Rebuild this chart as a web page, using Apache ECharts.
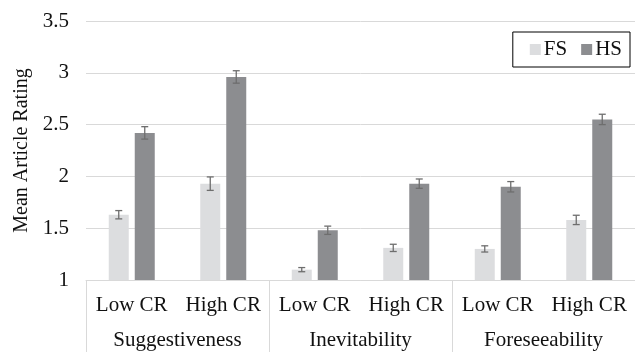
<!DOCTYPE html>
<html>
<head>
<meta charset="utf-8">
<script src="https://cdn.jsdelivr.net/npm/echarts@6/dist/echarts.min.js"></script>
<style>html,body{margin:0;padding:0;background:#fff}#c{width:635px;height:352px}</style>
</head>
<body>
<div id="c"></div>
<script>
const categories = ['Low CR', 'High CR', 'Low CR', 'High CR', 'Low CR', 'High CR'];
const groups = ['Suggestiveness', 'Inevitability', 'Foreseeability'];
const seriesNames = ['FS', 'HS'];
const fsValues = [1.63, 1.93, 1.10, 1.31, 1.30, 1.58];
const hsValues = [2.42, 2.96, 1.48, 1.93, 1.90, 2.55];
const fsErrors = [0.04, 0.065, 0.02, 0.035, 0.03, 0.045];
const hsErrors = [0.06, 0.06, 0.04, 0.045, 0.05, 0.05];
const yMin = 1, yMax = 3.5, yStep = 0.5;

const FONT = "'Liberation Serif', 'Times New Roman', serif";
const FS = 21;
const TXT = '#111';
const GRIDC = '#d9d9d9';
const BAR_W = 20, BAR_GAP_PX = 6;
const colors = ['#dcdddf', '#8c8d90'];

function errData(vals, errs) {
  return vals.map((v, i) => [i, v - errs[i], v + errs[i]]);
}
function errSeries(vals, errs, offset) {
  return {
    type: 'custom',
    xAxisIndex: 0, yAxisIndex: 0,
    z: 10,
    silent: true,
    data: errData(vals, errs),
    encode: { x: 0, y: [1, 2] },
    renderItem: function (params, api) {
      const c = api.value(0);
      const lo = api.coord([c, api.value(1)]);
      const hi = api.coord([c, api.value(2)]);
      const x = lo[0] + offset;
      const cap = 3.5;
      const st = { stroke: '#6e6e6e', lineWidth: 1.3 };
      return {
        type: 'group',
        children: [
          { type: 'line', shape: { x1: x, y1: lo[1], x2: x, y2: hi[1] }, style: st },
          { type: 'line', shape: { x1: x - cap, y1: lo[1], x2: x + cap, y2: lo[1] }, style: st },
          { type: 'line', shape: { x1: x - cap, y1: hi[1], x2: x + cap, y2: hi[1] }, style: st }
        ]
      };
    }
  };
}

const half = (BAR_W + BAR_GAP_PX) / 2;
const chart = echarts.init(document.getElementById('c'), null, { renderer: 'canvas' });
chart.setOption({
  animation: false,
  backgroundColor: '#fff',
  textStyle: { fontFamily: FONT },
  grid: { left: 86, right: -5, top: 21, bottom: 72, containLabel: false },
  legend: {
    data: seriesNames,
    right: 5, top: 32,
    orient: 'horizontal',
    icon: 'rect',
    itemWidth: 11, itemHeight: 11,
    itemGap: 14,
    borderColor: '#000', borderWidth: 1,
    padding: [7, 8, 7, 17],
    textStyle: { fontFamily: FONT, fontSize: FS, color: TXT, padding: [0, 0, 0, -2] }
  },
  xAxis: [
    {
      type: 'category',
      data: categories,
      position: 'bottom',
      axisLine: { show: true, lineStyle: { color: GRIDC, width: 1 } },
      axisTick: { show: false },
      axisLabel: { interval: 0, margin: 15, fontFamily: FONT, fontSize: FS, color: TXT }
    },
    {
      type: 'category',
      data: groups,
      position: 'bottom',
      gridIndex: 0,
      axisLine: { show: false },
      axisTick: { show: true, length: 72, interval: 0, lineStyle: { color: GRIDC, width: 1 } },
      axisLabel: { interval: 0, margin: 50, fontFamily: FONT, fontSize: FS, color: TXT },
      splitLine: { show: false }
    }
  ],
  yAxis: {
    type: 'value',
    min: yMin, max: yMax, interval: yStep,
    name: 'Mean Article Rating',
    nameLocation: 'middle',
    nameGap: 52,
    nameTextStyle: { fontFamily: FONT, fontSize: 20, color: TXT },
    axisLine: { show: false },
    axisTick: { show: false },
    axisLabel: { margin: 17, fontFamily: FONT, fontSize: FS, color: TXT },
    splitLine: { lineStyle: { color: GRIDC, width: 1 } }
  },
  series: [
    { name: seriesNames[0], type: 'bar', data: fsValues, barWidth: BAR_W, barGap: (BAR_GAP_PX / BAR_W * 100) + '%', itemStyle: { color: colors[0] } },
    { name: seriesNames[1], type: 'bar', data: hsValues, barWidth: BAR_W, itemStyle: { color: colors[1] } },
    errSeries(fsValues, fsErrors, -half),
    errSeries(hsValues, hsErrors, half)
  ]
});
</script>
</body>
</html>
